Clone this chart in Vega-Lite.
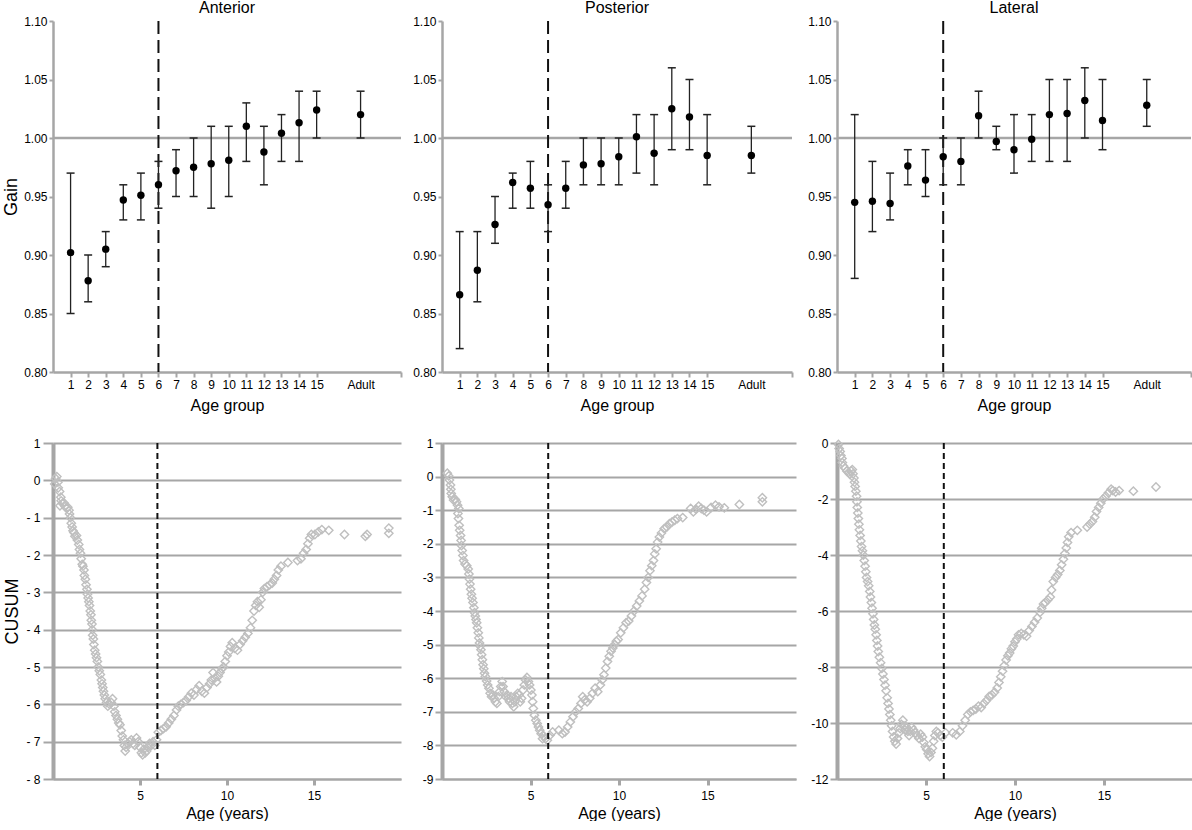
{
  "$schema": "https://vega.github.io/schema/vega-lite/v6.json",
  "padding": {"left": 2, "top": 0, "right": 0, "bottom": 0},
  "background": "white",
  "config": {
    "font": "Liberation Sans",
    "view": {"stroke": null},
    "axis": {
      "labelFont": "Liberation Sans",
      "titleFont": "Liberation Sans",
      "labelColor": "#000000",
      "titleColor": "#000000",
      "labelFontSize": 12,
      "titleFontSize": 16,
      "titleFontWeight": "normal",
      "domainColor": "#a6a6a6",
      "tickColor": "#a6a6a6",
      "grid": false
    },
    "title": {"font": "Liberation Sans", "fontSize": 16, "fontWeight": "normal", "color": "#000000", "offset": -1}
  },
  "datasets": {
    "gainAnterior": [
      {"group": "1", "order": 1, "gain": 0.902, "lo": 0.85, "hi": 0.97},
      {"group": "2", "order": 2, "gain": 0.878, "lo": 0.86, "hi": 0.90},
      {"group": "3", "order": 3, "gain": 0.905, "lo": 0.89, "hi": 0.92},
      {"group": "4", "order": 4, "gain": 0.947, "lo": 0.93, "hi": 0.96},
      {"group": "5", "order": 5, "gain": 0.951, "lo": 0.93, "hi": 0.97},
      {"group": "6", "order": 6, "gain": 0.960, "lo": 0.94, "hi": 0.98},
      {"group": "7", "order": 7, "gain": 0.972, "lo": 0.95, "hi": 0.99},
      {"group": "8", "order": 8, "gain": 0.975, "lo": 0.95, "hi": 1.00},
      {"group": "9", "order": 9, "gain": 0.978, "lo": 0.94, "hi": 1.01},
      {"group": "10", "order": 10, "gain": 0.981, "lo": 0.95, "hi": 1.01},
      {"group": "11", "order": 11, "gain": 1.010, "lo": 0.98, "hi": 1.03},
      {"group": "12", "order": 12, "gain": 0.988, "lo": 0.96, "hi": 1.01},
      {"group": "13", "order": 13, "gain": 1.004, "lo": 0.98, "hi": 1.02},
      {"group": "14", "order": 14, "gain": 1.013, "lo": 0.98, "hi": 1.04},
      {"group": "15", "order": 15, "gain": 1.024, "lo": 1.00, "hi": 1.04},
      {"group": "Adult", "order": 17.5, "gain": 1.020, "lo": 1.00, "hi": 1.04}
    ],
    "gainPosterior": [
      {"group": "1", "order": 1, "gain": 0.866, "lo": 0.82, "hi": 0.92},
      {"group": "2", "order": 2, "gain": 0.887, "lo": 0.86, "hi": 0.92},
      {"group": "3", "order": 3, "gain": 0.926, "lo": 0.91, "hi": 0.95},
      {"group": "4", "order": 4, "gain": 0.962, "lo": 0.94, "hi": 0.97},
      {"group": "5", "order": 5, "gain": 0.957, "lo": 0.94, "hi": 0.98},
      {"group": "6", "order": 6, "gain": 0.943, "lo": 0.92, "hi": 0.96},
      {"group": "7", "order": 7, "gain": 0.957, "lo": 0.94, "hi": 0.98},
      {"group": "8", "order": 8, "gain": 0.977, "lo": 0.96, "hi": 1.00},
      {"group": "9", "order": 9, "gain": 0.978, "lo": 0.96, "hi": 1.00},
      {"group": "10", "order": 10, "gain": 0.984, "lo": 0.96, "hi": 1.00},
      {"group": "11", "order": 11, "gain": 1.001, "lo": 0.97, "hi": 1.02},
      {"group": "12", "order": 12, "gain": 0.987, "lo": 0.96, "hi": 1.02},
      {"group": "13", "order": 13, "gain": 1.025, "lo": 0.99, "hi": 1.06},
      {"group": "14", "order": 14, "gain": 1.018, "lo": 0.99, "hi": 1.05},
      {"group": "15", "order": 15, "gain": 0.985, "lo": 0.96, "hi": 1.02},
      {"group": "Adult", "order": 17.5, "gain": 0.985, "lo": 0.97, "hi": 1.01}
    ],
    "gainLateral": [
      {"group": "1", "order": 1, "gain": 0.945, "lo": 0.88, "hi": 1.02},
      {"group": "2", "order": 2, "gain": 0.946, "lo": 0.92, "hi": 0.98},
      {"group": "3", "order": 3, "gain": 0.944, "lo": 0.93, "hi": 0.97},
      {"group": "4", "order": 4, "gain": 0.976, "lo": 0.96, "hi": 0.99},
      {"group": "5", "order": 5, "gain": 0.964, "lo": 0.95, "hi": 0.99},
      {"group": "6", "order": 6, "gain": 0.984, "lo": 0.96, "hi": 1.00},
      {"group": "7", "order": 7, "gain": 0.980, "lo": 0.96, "hi": 1.00},
      {"group": "8", "order": 8, "gain": 1.019, "lo": 1.00, "hi": 1.04},
      {"group": "9", "order": 9, "gain": 0.997, "lo": 0.99, "hi": 1.01},
      {"group": "10", "order": 10, "gain": 0.990, "lo": 0.97, "hi": 1.02},
      {"group": "11", "order": 11, "gain": 0.999, "lo": 0.98, "hi": 1.02},
      {"group": "12", "order": 12, "gain": 1.020, "lo": 0.98, "hi": 1.05},
      {"group": "13", "order": 13, "gain": 1.021, "lo": 0.98, "hi": 1.05},
      {"group": "14", "order": 14, "gain": 1.032, "lo": 1.00, "hi": 1.06},
      {"group": "15", "order": 15, "gain": 1.015, "lo": 0.99, "hi": 1.05},
      {"group": "Adult", "order": 17.5, "gain": 1.028, "lo": 1.01, "hi": 1.05}
    ],
    "cusumAnterior": [
      {"age": 0.15, "cusum": 0.05}, {"age": 0.22, "cusum": 0.1}, {"age": 0.28, "cusum": -0.05}, {"age": 0.1, "cusum": -0.1},
      {"age": 0.3, "cusum": -0.2}, {"age": 0.38, "cusum": -0.3}, {"age": 0.45, "cusum": -0.45}, {"age": 0.47, "cusum": -0.55},
      {"age": 0.4, "cusum": -0.68}, {"age": 0.55, "cusum": -0.62}, {"age": 0.62, "cusum": -0.6}, {"age": 0.7, "cusum": -0.7},
      {"age": 0.78, "cusum": -0.75}, {"age": 0.85, "cusum": -0.72}, {"age": 0.92, "cusum": -0.8}, {"age": 0.95, "cusum": -0.9},
      {"age": 1.0, "cusum": -1.0}, {"age": 1.05, "cusum": -1.15}, {"age": 1.1, "cusum": -1.25}, {"age": 1.15, "cusum": -1.35},
      {"age": 1.2, "cusum": -1.4}, {"age": 1.26, "cusum": -1.5}, {"age": 1.35, "cusum": -1.48}, {"age": 1.4, "cusum": -1.6},
      {"age": 1.48, "cusum": -1.72}, {"age": 1.52, "cusum": -1.85}, {"age": 1.58, "cusum": -1.95}, {"age": 1.62, "cusum": -2.1},
      {"age": 1.68, "cusum": -2.25}, {"age": 1.72, "cusum": -2.3}, {"age": 1.78, "cusum": -2.4}, {"age": 1.8, "cusum": -2.55},
      {"age": 1.86, "cusum": -2.65}, {"age": 1.9, "cusum": -2.8}, {"age": 1.95, "cusum": -2.92}, {"age": 1.98, "cusum": -3.05},
      {"age": 2.02, "cusum": -3.15}, {"age": 2.06, "cusum": -3.25}, {"age": 2.1, "cusum": -3.35}, {"age": 2.14, "cusum": -3.5},
      {"age": 2.18, "cusum": -3.6}, {"age": 2.2, "cusum": -3.75}, {"age": 2.24, "cusum": -3.85}, {"age": 2.26, "cusum": -4.0},
      {"age": 2.28, "cusum": -4.15}, {"age": 2.32, "cusum": -4.25}, {"age": 2.35, "cusum": -4.4}, {"age": 2.4, "cusum": -4.55},
      {"age": 2.45, "cusum": -4.65}, {"age": 2.5, "cusum": -4.75}, {"age": 2.55, "cusum": -4.85}, {"age": 2.6, "cusum": -5.0},
      {"age": 2.66, "cusum": -5.1}, {"age": 2.72, "cusum": -5.2}, {"age": 2.78, "cusum": -5.35}, {"age": 2.82, "cusum": -5.45},
      {"age": 2.86, "cusum": -5.55}, {"age": 2.9, "cusum": -5.65}, {"age": 2.95, "cusum": -5.75}, {"age": 3.0, "cusum": -5.85},
      {"age": 3.08, "cusum": -5.95}, {"age": 3.15, "cusum": -6.05}, {"age": 3.25, "cusum": -6.0}, {"age": 3.35, "cusum": -5.95},
      {"age": 3.42, "cusum": -5.85}, {"age": 3.5, "cusum": -6.05}, {"age": 3.55, "cusum": -6.2}, {"age": 3.62, "cusum": -6.3},
      {"age": 3.7, "cusum": -6.4}, {"age": 3.78, "cusum": -6.5}, {"age": 3.85, "cusum": -6.55}, {"age": 3.92, "cusum": -6.7},
      {"age": 3.98, "cusum": -6.85}, {"age": 4.05, "cusum": -6.95}, {"age": 4.1, "cusum": -7.1}, {"age": 4.15, "cusum": -7.25},
      {"age": 4.2, "cusum": -7.15}, {"age": 4.3, "cusum": -7.05}, {"age": 4.4, "cusum": -7.0}, {"age": 4.5, "cusum": -6.95},
      {"age": 4.6, "cusum": -7.05}, {"age": 4.7, "cusum": -7.1}, {"age": 4.8, "cusum": -6.9}, {"age": 4.9, "cusum": -7.0},
      {"age": 5.0, "cusum": -7.15}, {"age": 5.08, "cusum": -7.3}, {"age": 5.15, "cusum": -7.35}, {"age": 5.22, "cusum": -7.2},
      {"age": 5.3, "cusum": -7.3}, {"age": 5.38, "cusum": -7.25}, {"age": 5.45, "cusum": -7.15}, {"age": 5.55, "cusum": -7.05},
      {"age": 5.65, "cusum": -7.1}, {"age": 5.75, "cusum": -7.0}, {"age": 5.85, "cusum": -7.1}, {"age": 5.95, "cusum": -6.95},
      {"age": 6.05, "cusum": -6.75}, {"age": 6.2, "cusum": -6.7}, {"age": 6.35, "cusum": -6.65}, {"age": 6.5, "cusum": -6.6},
      {"age": 6.65, "cusum": -6.5}, {"age": 6.8, "cusum": -6.4}, {"age": 6.95, "cusum": -6.3}, {"age": 7.1, "cusum": -6.15},
      {"age": 7.2, "cusum": -6.05}, {"age": 7.35, "cusum": -6.0}, {"age": 7.5, "cusum": -5.95}, {"age": 7.65, "cusum": -5.9},
      {"age": 7.8, "cusum": -5.8}, {"age": 7.95, "cusum": -5.7}, {"age": 8.1, "cusum": -5.75}, {"age": 8.25, "cusum": -5.6},
      {"age": 8.4, "cusum": -5.5}, {"age": 8.55, "cusum": -5.65}, {"age": 8.7, "cusum": -5.7}, {"age": 8.85, "cusum": -5.55},
      {"age": 9.0, "cusum": -5.45}, {"age": 9.1, "cusum": -5.35}, {"age": 9.2, "cusum": -5.15}, {"age": 9.3, "cusum": -5.3},
      {"age": 9.4, "cusum": -5.4}, {"age": 9.5, "cusum": -5.25}, {"age": 9.6, "cusum": -5.15}, {"age": 9.7, "cusum": -5.05},
      {"age": 9.8, "cusum": -5.0}, {"age": 9.9, "cusum": -4.85}, {"age": 10.0, "cusum": -4.7}, {"age": 10.1, "cusum": -4.6},
      {"age": 10.2, "cusum": -4.45}, {"age": 10.3, "cusum": -4.35}, {"age": 10.45, "cusum": -4.5}, {"age": 10.6, "cusum": -4.55},
      {"age": 10.75, "cusum": -4.4}, {"age": 10.9, "cusum": -4.3}, {"age": 11.05, "cusum": -4.2}, {"age": 11.2, "cusum": -4.1},
      {"age": 11.35, "cusum": -3.95}, {"age": 11.45, "cusum": -3.75}, {"age": 11.55, "cusum": -3.5}, {"age": 11.65, "cusum": -3.35},
      {"age": 11.75, "cusum": -3.25}, {"age": 11.85, "cusum": -3.4}, {"age": 11.95, "cusum": -3.2}, {"age": 12.05, "cusum": -3.0},
      {"age": 12.15, "cusum": -2.9}, {"age": 12.3, "cusum": -2.85}, {"age": 12.45, "cusum": -2.8}, {"age": 12.6, "cusum": -2.75},
      {"age": 12.72, "cusum": -2.65}, {"age": 12.85, "cusum": -2.55}, {"age": 12.95, "cusum": -2.4}, {"age": 13.1, "cusum": -2.3},
      {"age": 13.5, "cusum": -2.2}, {"age": 14.05, "cusum": -2.15}, {"age": 14.25, "cusum": -2.1}, {"age": 14.4, "cusum": -1.95},
      {"age": 14.55, "cusum": -1.85}, {"age": 14.65, "cusum": -1.7}, {"age": 14.75, "cusum": -1.55}, {"age": 14.85, "cusum": -1.45},
      {"age": 15.05, "cusum": -1.45}, {"age": 15.25, "cusum": -1.38}, {"age": 15.45, "cusum": -1.32}, {"age": 15.85, "cusum": -1.34},
      {"age": 16.75, "cusum": -1.45}, {"age": 17.95, "cusum": -1.5}, {"age": 18.05, "cusum": -1.45}, {"age": 19.3, "cusum": -1.28},
      {"age": 19.3, "cusum": -1.42}
    ],
    "cusumPosterior": [
      {"age": 0.3, "cusum": 0.1}, {"age": 0.38, "cusum": 0.02}, {"age": 0.42, "cusum": -0.1}, {"age": 0.48, "cusum": -0.25},
      {"age": 0.5, "cusum": -0.38}, {"age": 0.52, "cusum": -0.5}, {"age": 0.58, "cusum": -0.6}, {"age": 0.65, "cusum": -0.7},
      {"age": 0.75, "cusum": -0.68}, {"age": 0.82, "cusum": -0.75}, {"age": 0.88, "cusum": -0.85}, {"age": 0.95, "cusum": -0.95},
      {"age": 0.9, "cusum": -1.1}, {"age": 0.93, "cusum": -1.25}, {"age": 0.97, "cusum": -1.45}, {"age": 1.0, "cusum": -1.6},
      {"age": 1.05, "cusum": -1.75}, {"age": 1.08, "cusum": -1.9}, {"age": 1.1, "cusum": -2.05}, {"age": 1.14, "cusum": -2.2},
      {"age": 1.18, "cusum": -2.35}, {"age": 1.22, "cusum": -2.5}, {"age": 1.3, "cusum": -2.6}, {"age": 1.4, "cusum": -2.65},
      {"age": 1.48, "cusum": -2.75}, {"age": 1.52, "cusum": -2.9}, {"age": 1.55, "cusum": -3.05}, {"age": 1.58, "cusum": -3.2},
      {"age": 1.62, "cusum": -3.35}, {"age": 1.66, "cusum": -3.5}, {"age": 1.7, "cusum": -3.62}, {"age": 1.75, "cusum": -3.75},
      {"age": 1.8, "cusum": -3.9}, {"age": 1.84, "cusum": -4.05}, {"age": 1.88, "cusum": -4.15}, {"age": 1.92, "cusum": -4.25},
      {"age": 1.96, "cusum": -4.35}, {"age": 2.0, "cusum": -4.5}, {"age": 2.05, "cusum": -4.65}, {"age": 2.08, "cusum": -4.8},
      {"age": 2.12, "cusum": -4.95}, {"age": 2.16, "cusum": -5.05}, {"age": 2.2, "cusum": -5.15}, {"age": 2.24, "cusum": -5.3},
      {"age": 2.28, "cusum": -5.45}, {"age": 2.32, "cusum": -5.6}, {"age": 2.36, "cusum": -5.72}, {"age": 2.4, "cusum": -5.85},
      {"age": 2.45, "cusum": -5.95}, {"age": 2.52, "cusum": -6.08}, {"age": 2.58, "cusum": -6.2}, {"age": 2.65, "cusum": -6.3},
      {"age": 2.72, "cusum": -6.45}, {"age": 2.8, "cusum": -6.55}, {"age": 2.88, "cusum": -6.5}, {"age": 2.95, "cusum": -6.6},
      {"age": 3.02, "cusum": -6.7}, {"age": 3.1, "cusum": -6.75}, {"age": 3.18, "cusum": -6.55}, {"age": 3.25, "cusum": -6.4},
      {"age": 3.32, "cusum": -6.25}, {"age": 3.4, "cusum": -6.1}, {"age": 3.45, "cusum": -6.25}, {"age": 3.52, "cusum": -6.4},
      {"age": 3.6, "cusum": -6.55}, {"age": 3.68, "cusum": -6.5}, {"age": 3.75, "cusum": -6.6}, {"age": 3.82, "cusum": -6.7},
      {"age": 3.9, "cusum": -6.55}, {"age": 3.98, "cusum": -6.75}, {"age": 4.05, "cusum": -6.85}, {"age": 4.12, "cusum": -6.7},
      {"age": 4.2, "cusum": -6.55}, {"age": 4.28, "cusum": -6.45}, {"age": 4.35, "cusum": -6.5}, {"age": 4.42, "cusum": -6.7},
      {"age": 4.5, "cusum": -6.6}, {"age": 4.58, "cusum": -6.35}, {"age": 4.65, "cusum": -6.2}, {"age": 4.72, "cusum": -6.05},
      {"age": 4.8, "cusum": -5.98}, {"age": 4.88, "cusum": -6.1}, {"age": 4.95, "cusum": -6.2}, {"age": 5.02, "cusum": -6.35},
      {"age": 5.08, "cusum": -6.5}, {"age": 5.12, "cusum": -6.7}, {"age": 5.16, "cusum": -6.9}, {"age": 5.22, "cusum": -7.1},
      {"age": 5.3, "cusum": -7.25}, {"age": 5.38, "cusum": -7.35}, {"age": 5.45, "cusum": -7.45}, {"age": 5.52, "cusum": -7.55},
      {"age": 5.6, "cusum": -7.65}, {"age": 5.68, "cusum": -7.8}, {"age": 5.75, "cusum": -7.72}, {"age": 5.85, "cusum": -7.8},
      {"age": 5.95, "cusum": -7.85}, {"age": 6.1, "cusum": -7.7}, {"age": 6.25, "cusum": -7.6}, {"age": 6.6, "cusum": -7.55},
      {"age": 6.8, "cusum": -7.65}, {"age": 6.95, "cusum": -7.6}, {"age": 7.1, "cusum": -7.45}, {"age": 7.25, "cusum": -7.3},
      {"age": 7.4, "cusum": -7.15}, {"age": 7.55, "cusum": -7.0}, {"age": 7.7, "cusum": -6.9}, {"age": 7.85, "cusum": -6.75},
      {"age": 7.95, "cusum": -6.55}, {"age": 8.05, "cusum": -6.65}, {"age": 8.2, "cusum": -6.7}, {"age": 8.35, "cusum": -6.6},
      {"age": 8.5, "cusum": -6.45}, {"age": 8.65, "cusum": -6.3}, {"age": 8.8, "cusum": -6.4}, {"age": 8.95, "cusum": -6.2},
      {"age": 9.05, "cusum": -6.05}, {"age": 9.15, "cusum": -5.9}, {"age": 9.25, "cusum": -5.7}, {"age": 9.35, "cusum": -5.5},
      {"age": 9.45, "cusum": -5.35}, {"age": 9.55, "cusum": -5.2}, {"age": 9.65, "cusum": -5.1}, {"age": 9.75, "cusum": -5.0},
      {"age": 9.85, "cusum": -4.9}, {"age": 9.95, "cusum": -4.85}, {"age": 10.1, "cusum": -4.65}, {"age": 10.25, "cusum": -4.5},
      {"age": 10.4, "cusum": -4.35}, {"age": 10.55, "cusum": -4.3}, {"age": 10.7, "cusum": -4.15}, {"age": 10.85, "cusum": -4.0},
      {"age": 11.0, "cusum": -3.85}, {"age": 11.15, "cusum": -3.7}, {"age": 11.3, "cusum": -3.55}, {"age": 11.45, "cusum": -3.35},
      {"age": 11.55, "cusum": -3.15}, {"age": 11.65, "cusum": -3.0}, {"age": 11.75, "cusum": -2.8}, {"age": 11.85, "cusum": -2.65},
      {"age": 11.95, "cusum": -2.5}, {"age": 12.02, "cusum": -2.3}, {"age": 12.1, "cusum": -2.15}, {"age": 12.18, "cusum": -1.95},
      {"age": 12.28, "cusum": -1.8}, {"age": 12.4, "cusum": -1.68}, {"age": 12.55, "cusum": -1.55}, {"age": 12.7, "cusum": -1.5},
      {"age": 12.85, "cusum": -1.4}, {"age": 13.0, "cusum": -1.35}, {"age": 13.15, "cusum": -1.3}, {"age": 13.3, "cusum": -1.25},
      {"age": 13.6, "cusum": -1.22}, {"age": 14.05, "cusum": -0.95}, {"age": 14.2, "cusum": -1.05}, {"age": 14.35, "cusum": -0.97},
      {"age": 14.5, "cusum": -0.88}, {"age": 14.65, "cusum": -0.95}, {"age": 14.8, "cusum": -1.0}, {"age": 14.95, "cusum": -1.05},
      {"age": 15.2, "cusum": -0.92}, {"age": 15.45, "cusum": -0.85}, {"age": 15.65, "cusum": -0.9}, {"age": 15.95, "cusum": -0.93},
      {"age": 16.8, "cusum": -0.83}, {"age": 18.1, "cusum": -0.63}, {"age": 18.1, "cusum": -0.75}
    ],
    "cusumLateral": [
      {"age": 0.08, "cusum": -0.05}, {"age": 0.12, "cusum": -0.2}, {"age": 0.18, "cusum": -0.3}, {"age": 0.22, "cusum": -0.45},
      {"age": 0.28, "cusum": -0.55}, {"age": 0.3, "cusum": -0.7}, {"age": 0.36, "cusum": -0.82}, {"age": 0.45, "cusum": -0.9},
      {"age": 0.55, "cusum": -1.0}, {"age": 0.65, "cusum": -1.05}, {"age": 0.72, "cusum": -1.12}, {"age": 0.8, "cusum": -1.0},
      {"age": 0.86, "cusum": -0.95}, {"age": 0.9, "cusum": -1.1}, {"age": 0.95, "cusum": -1.25}, {"age": 0.98, "cusum": -1.4},
      {"age": 1.02, "cusum": -1.55}, {"age": 1.06, "cusum": -1.72}, {"age": 1.1, "cusum": -1.9}, {"age": 1.12, "cusum": -2.1},
      {"age": 1.14, "cusum": -2.3}, {"age": 1.17, "cusum": -2.5}, {"age": 1.2, "cusum": -2.7}, {"age": 1.23, "cusum": -2.9},
      {"age": 1.26, "cusum": -3.1}, {"age": 1.3, "cusum": -3.3}, {"age": 1.34, "cusum": -3.5}, {"age": 1.38, "cusum": -3.7},
      {"age": 1.43, "cusum": -3.85}, {"age": 1.48, "cusum": -4.0}, {"age": 1.53, "cusum": -4.2}, {"age": 1.58, "cusum": -4.4},
      {"age": 1.62, "cusum": -4.6}, {"age": 1.66, "cusum": -4.8}, {"age": 1.72, "cusum": -4.95}, {"age": 1.78, "cusum": -5.1},
      {"age": 1.84, "cusum": -5.3}, {"age": 1.88, "cusum": -5.5}, {"age": 1.93, "cusum": -5.7}, {"age": 1.97, "cusum": -5.9},
      {"age": 2.02, "cusum": -6.1}, {"age": 2.06, "cusum": -6.3}, {"age": 2.1, "cusum": -6.5}, {"age": 2.15, "cusum": -6.65},
      {"age": 2.2, "cusum": -6.85}, {"age": 2.24, "cusum": -7.05}, {"age": 2.28, "cusum": -7.25}, {"age": 2.32, "cusum": -7.45},
      {"age": 2.38, "cusum": -7.65}, {"age": 2.45, "cusum": -7.85}, {"age": 2.52, "cusum": -8.05}, {"age": 2.58, "cusum": -8.25},
      {"age": 2.64, "cusum": -8.45}, {"age": 2.7, "cusum": -8.65}, {"age": 2.76, "cusum": -8.85}, {"age": 2.82, "cusum": -9.1},
      {"age": 2.87, "cusum": -9.3}, {"age": 2.92, "cusum": -9.5}, {"age": 2.97, "cusum": -9.7}, {"age": 3.02, "cusum": -9.9},
      {"age": 3.07, "cusum": -10.1}, {"age": 3.12, "cusum": -10.3}, {"age": 3.18, "cusum": -10.5}, {"age": 3.25, "cusum": -10.65},
      {"age": 3.32, "cusum": -10.75}, {"age": 3.4, "cusum": -10.55}, {"age": 3.48, "cusum": -10.35}, {"age": 3.55, "cusum": -10.2},
      {"age": 3.62, "cusum": -10.05}, {"age": 3.7, "cusum": -9.9}, {"age": 3.76, "cusum": -10.1}, {"age": 3.82, "cusum": -10.25},
      {"age": 3.9, "cusum": -10.15}, {"age": 3.98, "cusum": -10.3}, {"age": 4.05, "cusum": -10.45}, {"age": 4.12, "cusum": -10.3},
      {"age": 4.2, "cusum": -10.15}, {"age": 4.3, "cusum": -10.25}, {"age": 4.4, "cusum": -10.35}, {"age": 4.5, "cusum": -10.45},
      {"age": 4.6, "cusum": -10.55}, {"age": 4.7, "cusum": -10.4}, {"age": 4.8, "cusum": -10.5}, {"age": 4.88, "cusum": -10.7},
      {"age": 4.96, "cusum": -10.85}, {"age": 5.04, "cusum": -10.95}, {"age": 5.12, "cusum": -11.1}, {"age": 5.2, "cusum": -11.2},
      {"age": 5.28, "cusum": -11.05}, {"age": 5.36, "cusum": -10.9}, {"age": 5.43, "cusum": -10.65}, {"age": 5.5, "cusum": -10.45},
      {"age": 5.58, "cusum": -10.3}, {"age": 5.68, "cusum": -10.35}, {"age": 5.8, "cusum": -10.45}, {"age": 5.92, "cusum": -10.5},
      {"age": 6.1, "cusum": -10.35}, {"age": 6.5, "cusum": -10.35}, {"age": 6.7, "cusum": -10.42}, {"age": 6.9, "cusum": -10.3},
      {"age": 7.05, "cusum": -10.1}, {"age": 7.2, "cusum": -9.9}, {"age": 7.35, "cusum": -9.7}, {"age": 7.5, "cusum": -9.6},
      {"age": 7.65, "cusum": -9.55}, {"age": 7.8, "cusum": -9.5}, {"age": 7.95, "cusum": -9.4}, {"age": 8.1, "cusum": -9.45},
      {"age": 8.25, "cusum": -9.3}, {"age": 8.4, "cusum": -9.2}, {"age": 8.55, "cusum": -9.05}, {"age": 8.7, "cusum": -9.0},
      {"age": 8.85, "cusum": -8.9}, {"age": 9.0, "cusum": -8.75}, {"age": 9.1, "cusum": -8.55}, {"age": 9.2, "cusum": -8.35},
      {"age": 9.3, "cusum": -8.15}, {"age": 9.4, "cusum": -7.95}, {"age": 9.5, "cusum": -7.75}, {"age": 9.6, "cusum": -7.6},
      {"age": 9.7, "cusum": -7.5}, {"age": 9.8, "cusum": -7.35}, {"age": 9.9, "cusum": -7.25}, {"age": 10.0, "cusum": -7.1},
      {"age": 10.1, "cusum": -7.0}, {"age": 10.2, "cusum": -6.85}, {"age": 10.35, "cusum": -6.8}, {"age": 10.5, "cusum": -6.85},
      {"age": 10.65, "cusum": -6.9}, {"age": 10.8, "cusum": -6.7}, {"age": 10.95, "cusum": -6.55}, {"age": 11.1, "cusum": -6.4},
      {"age": 11.25, "cusum": -6.25}, {"age": 11.4, "cusum": -6.05}, {"age": 11.5, "cusum": -5.9}, {"age": 11.6, "cusum": -5.75},
      {"age": 11.7, "cusum": -5.7}, {"age": 11.85, "cusum": -5.6}, {"age": 11.98, "cusum": -5.5}, {"age": 12.05, "cusum": -5.25},
      {"age": 12.15, "cusum": -4.95}, {"age": 12.28, "cusum": -4.8}, {"age": 12.4, "cusum": -4.7}, {"age": 12.52, "cusum": -4.55},
      {"age": 12.62, "cusum": -4.35}, {"age": 12.72, "cusum": -4.15}, {"age": 12.8, "cusum": -3.95}, {"age": 12.88, "cusum": -3.75},
      {"age": 12.95, "cusum": -3.55}, {"age": 13.02, "cusum": -3.35}, {"age": 13.15, "cusum": -3.2}, {"age": 13.5, "cusum": -3.12},
      {"age": 14.05, "cusum": -3.0}, {"age": 14.2, "cusum": -2.9}, {"age": 14.35, "cusum": -2.8}, {"age": 14.48, "cusum": -2.65},
      {"age": 14.58, "cusum": -2.45}, {"age": 14.7, "cusum": -2.3}, {"age": 14.82, "cusum": -2.15}, {"age": 14.95, "cusum": -2.0},
      {"age": 15.1, "cusum": -1.9}, {"age": 15.25, "cusum": -1.78}, {"age": 15.4, "cusum": -1.65}, {"age": 15.5, "cusum": -1.7},
      {"age": 15.65, "cusum": -1.75}, {"age": 15.85, "cusum": -1.7}, {"age": 16.65, "cusum": -1.72}, {"age": 17.92, "cusum": -1.57}
    ]
  },
  "bounds": "flush",
  "columns": 3,
  "spacing": {"row": 71, "column": 41},
  "concat": [
    {
      "width": 348,
      "height": 351,
      "title": {"text": "Anterior"},
      "data": {"name": "gainAnterior"},
      "layer": [
        {"data": {"values": [{}]}, "mark": {"type": "rule", "color": "#a6a6a6", "strokeWidth": 2.5}, "encoding": {"y": {"datum": 1, "type": "quantitative"}}},
        {"data": {"values": [{}]}, "mark": {"type": "rule", "color": "#111111", "strokeWidth": 2, "strokeDash": [13, 6]}, "encoding": {"x": {"datum": 6, "type": "quantitative"}}},
        {"mark": {"type": "rule", "color": "#222222", "strokeWidth": 1.3}, "encoding": {"x": {"field": "order", "type": "quantitative"}, "y": {"field": "lo", "type": "quantitative"}, "y2": {"field": "hi"}}},
        {"mark": {"type": "tick", "orient": "horizontal", "size": 8, "thickness": 1.5, "color": "#222222", "opacity": 1}, "encoding": {"x": {"field": "order", "type": "quantitative"}, "y": {"field": "hi", "type": "quantitative"}}},
        {"mark": {"type": "tick", "orient": "horizontal", "size": 8, "thickness": 1.5, "color": "#222222", "opacity": 1}, "encoding": {"x": {"field": "order", "type": "quantitative"}, "y": {"field": "lo", "type": "quantitative"}}},
        {
          "mark": {"type": "circle", "size": 55, "color": "#000000", "opacity": 1},
          "encoding": {
            "x": {"field": "order", "type": "quantitative", "title": "Age group", "scale": {"domain": [0, 19.8], "nice": false},
              "axis": {"values": [1, 2, 3, 4, 5, 6, 7, 8, 9, 10, 11, 12, 13, 14, 15, 17.5, 19.8], "tickCount": 40, "format": "d", "labelExpr": "datum.value == 17.5 ? 'Adult' : (datum.value > 19 ? '' : datum.label)", "tickOpacity": {"condition": {"test": "datum.value == 17.5", "value": 0}, "value": 1}, "labelOverlap": false, "labelFlush": false, "domainWidth": 2.5, "tickWidth": 2, "tickSize": 5, "labelPadding": 2, "titlePadding": 7}},
            "y": {"field": "gain", "type": "quantitative", "title": "Gain", "scale": {"domain": [0.8, 1.1], "nice": false, "zero": false},
              "axis": {"values": [0.8, 0.85, 0.9, 0.95, 1, 1.05, 1.1], "tickCount": 20, "format": ".2f", "domainWidth": 2.5, "tickWidth": 2, "tickSize": 4, "labelPadding": 2, "titleFontSize": 18, "titlePadding": 3}}
          }
        }
      ]
    },
    {
      "width": 350,
      "height": 351,
      "title": {"text": "Posterior"},
      "data": {"name": "gainPosterior"},
      "layer": [
        {"data": {"values": [{}]}, "mark": {"type": "rule", "color": "#a6a6a6", "strokeWidth": 2.5}, "encoding": {"y": {"datum": 1, "type": "quantitative"}}},
        {"data": {"values": [{}]}, "mark": {"type": "rule", "color": "#111111", "strokeWidth": 2, "strokeDash": [13, 6]}, "encoding": {"x": {"datum": 6, "type": "quantitative"}}},
        {"mark": {"type": "rule", "color": "#222222", "strokeWidth": 1.3}, "encoding": {"x": {"field": "order", "type": "quantitative"}, "y": {"field": "lo", "type": "quantitative"}, "y2": {"field": "hi"}}},
        {"mark": {"type": "tick", "orient": "horizontal", "size": 8, "thickness": 1.5, "color": "#222222", "opacity": 1}, "encoding": {"x": {"field": "order", "type": "quantitative"}, "y": {"field": "hi", "type": "quantitative"}}},
        {"mark": {"type": "tick", "orient": "horizontal", "size": 8, "thickness": 1.5, "color": "#222222", "opacity": 1}, "encoding": {"x": {"field": "order", "type": "quantitative"}, "y": {"field": "lo", "type": "quantitative"}}},
        {
          "mark": {"type": "circle", "size": 55, "color": "#000000", "opacity": 1},
          "encoding": {
            "x": {"field": "order", "type": "quantitative", "title": "Age group", "scale": {"domain": [0, 19.8], "nice": false},
              "axis": {"values": [1, 2, 3, 4, 5, 6, 7, 8, 9, 10, 11, 12, 13, 14, 15, 17.5, 19.8], "tickCount": 40, "format": "d", "labelExpr": "datum.value == 17.5 ? 'Adult' : (datum.value > 19 ? '' : datum.label)", "tickOpacity": {"condition": {"test": "datum.value == 17.5", "value": 0}, "value": 1}, "labelOverlap": false, "labelFlush": false, "domainWidth": 2.5, "tickWidth": 2, "tickSize": 5, "labelPadding": 2, "titlePadding": 7}},
            "y": {"field": "gain", "type": "quantitative", "title": null, "scale": {"domain": [0.8, 1.1], "nice": false, "zero": false},
              "axis": {"values": [0.8, 0.85, 0.9, 0.95, 1, 1.05, 1.1], "tickCount": 20, "format": ".2f", "domainWidth": 2.5, "tickWidth": 2, "tickSize": 4, "labelPadding": 2}}
          }
        }
      ]
    },
    {
      "width": 354,
      "height": 351,
      "title": {"text": "Lateral"},
      "data": {"name": "gainLateral"},
      "layer": [
        {"data": {"values": [{}]}, "mark": {"type": "rule", "color": "#a6a6a6", "strokeWidth": 2.5}, "encoding": {"y": {"datum": 1, "type": "quantitative"}}},
        {"data": {"values": [{}]}, "mark": {"type": "rule", "color": "#111111", "strokeWidth": 2, "strokeDash": [13, 6]}, "encoding": {"x": {"datum": 6, "type": "quantitative"}}},
        {"mark": {"type": "rule", "color": "#222222", "strokeWidth": 1.3}, "encoding": {"x": {"field": "order", "type": "quantitative"}, "y": {"field": "lo", "type": "quantitative"}, "y2": {"field": "hi"}}},
        {"mark": {"type": "tick", "orient": "horizontal", "size": 8, "thickness": 1.5, "color": "#222222", "opacity": 1}, "encoding": {"x": {"field": "order", "type": "quantitative"}, "y": {"field": "hi", "type": "quantitative"}}},
        {"mark": {"type": "tick", "orient": "horizontal", "size": 8, "thickness": 1.5, "color": "#222222", "opacity": 1}, "encoding": {"x": {"field": "order", "type": "quantitative"}, "y": {"field": "lo", "type": "quantitative"}}},
        {
          "mark": {"type": "circle", "size": 55, "color": "#000000", "opacity": 1},
          "encoding": {
            "x": {"field": "order", "type": "quantitative", "title": "Age group", "scale": {"domain": [0, 20], "nice": false},
              "axis": {"values": [1, 2, 3, 4, 5, 6, 7, 8, 9, 10, 11, 12, 13, 14, 15, 17.5, 20], "tickCount": 40, "format": "d", "labelExpr": "datum.value == 17.5 ? 'Adult' : (datum.value > 19 ? '' : datum.label)", "tickOpacity": {"condition": {"test": "datum.value == 17.5", "value": 0}, "value": 1}, "labelOverlap": false, "labelFlush": false, "domainWidth": 2.5, "tickWidth": 2, "tickSize": 5, "labelPadding": 2, "titlePadding": 7}},
            "y": {"field": "gain", "type": "quantitative", "title": null, "scale": {"domain": [0.8, 1.1], "nice": false, "zero": false},
              "axis": {"values": [0.8, 0.85, 0.9, 0.95, 1, 1.05, 1.1], "tickCount": 20, "format": ".2f", "domainWidth": 2.5, "tickWidth": 2, "tickSize": 4, "labelPadding": 2}}
          }
        }
      ]
    },
    {
      "width": 348,
      "height": 336,
      "data": {"name": "cusumAnterior"},
      "layer": [
        {
          "mark": {"type": "point", "shape": "diamond", "filled": false, "size": 70, "color": "#bfbfbf", "strokeWidth": 1.4, "opacity": 1},
          "encoding": {
            "x": {"field": "age", "type": "quantitative", "title": "Age (years)", "scale": {"domain": [0, 20], "nice": false},
              "axis": {"values": [5, 10, 15], "tickCount": 20, "format": "d", "domainWidth": 2, "tickWidth": 3, "tickSize": 6, "labelPadding": 5, "titlePadding": 4}},
            "y": {"field": "cusum", "type": "quantitative", "title": "CUSUM", "scale": {"domain": [-8, 1], "nice": false},
              "axis": {"values": [-8, -7, -6, -5, -4, -3, -2, -1, 0, 1], "tickCount": 20, "format": "d", "labelExpr": "datum.value < 0 ? '- ' + abs(datum.value) : datum.label", "grid": true, "gridColor": "#a6a6a6", "gridWidth": 2, "domainWidth": 4, "tickWidth": 2, "tickSize": 10, "labelPadding": 3, "titleFontSize": 18, "titlePadding": 4}}
          }
        },
        {"data": {"values": [{}]}, "mark": {"type": "rule", "color": "#111111", "strokeWidth": 2, "strokeDash": [6, 4]}, "encoding": {"x": {"datum": 6, "type": "quantitative"}}}
      ]
    },
    {
      "width": 354,
      "height": 336,
      "data": {"name": "cusumPosterior"},
      "layer": [
        {
          "mark": {"type": "point", "shape": "diamond", "filled": false, "size": 70, "color": "#bfbfbf", "strokeWidth": 1.4, "opacity": 1},
          "encoding": {
            "x": {"field": "age", "type": "quantitative", "title": "Age (years)", "scale": {"domain": [0, 20], "nice": false},
              "axis": {"values": [5, 10, 15], "tickCount": 20, "format": "d", "domainWidth": 2, "tickWidth": 3, "tickSize": 6, "labelPadding": 5, "titlePadding": 4}},
            "y": {"field": "cusum", "type": "quantitative", "title": null, "scale": {"domain": [-9, 1], "nice": false},
              "axis": {"values": [-9, -8, -7, -6, -5, -4, -3, -2, -1, 0, 1], "tickCount": 20, "format": "d", "labelExpr": "datum.value < 0 ? '-' + abs(datum.value) : datum.label", "grid": true, "gridColor": "#a6a6a6", "gridWidth": 2, "domainWidth": 4, "tickWidth": 2, "tickSize": 7, "labelPadding": 2}}
          }
        },
        {"data": {"values": [{}]}, "mark": {"type": "rule", "color": "#111111", "strokeWidth": 2, "strokeDash": [6, 4]}, "encoding": {"x": {"datum": 6, "type": "quantitative"}}}
      ]
    },
    {
      "width": 356,
      "height": 336,
      "data": {"name": "cusumLateral"},
      "layer": [
        {
          "mark": {"type": "point", "shape": "diamond", "filled": false, "size": 70, "color": "#bfbfbf", "strokeWidth": 1.4, "opacity": 1},
          "encoding": {
            "x": {"field": "age", "type": "quantitative", "title": "Age (years)", "scale": {"domain": [0, 20], "nice": false},
              "axis": {"values": [5, 10, 15], "tickCount": 20, "format": "d", "domainWidth": 2, "tickWidth": 3, "tickSize": 6, "labelPadding": 5, "titlePadding": 4}},
            "y": {"field": "cusum", "type": "quantitative", "title": null, "scale": {"domain": [-12, 0], "nice": false},
              "axis": {"values": [-12, -10, -8, -6, -4, -2, 0], "tickCount": 20, "format": "d", "labelExpr": "datum.value < 0 ? '-' + abs(datum.value) : datum.label", "grid": true, "gridColor": "#a6a6a6", "gridWidth": 2, "domainWidth": 4, "tickWidth": 2, "tickSize": 7, "labelPadding": 2}}
          }
        },
        {"data": {"values": [{}]}, "mark": {"type": "rule", "color": "#111111", "strokeWidth": 2, "strokeDash": [6, 4]}, "encoding": {"x": {"datum": 6, "type": "quantitative"}}}
      ]
    }
  ]
}
